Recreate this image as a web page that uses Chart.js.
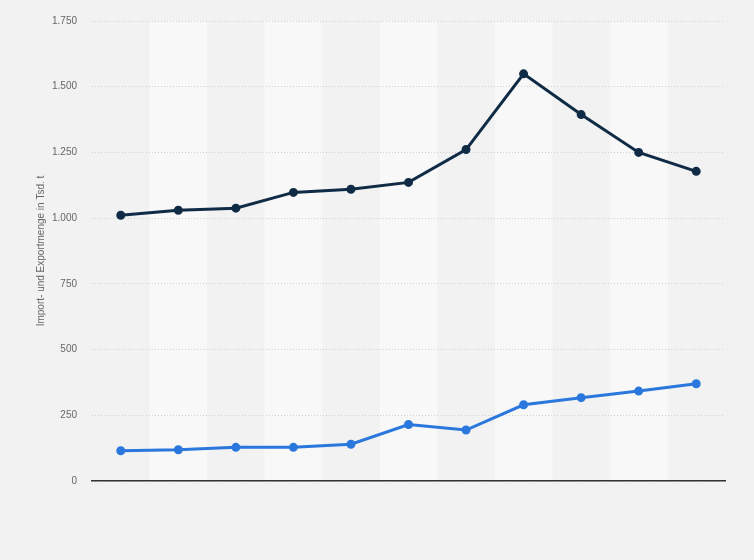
<!DOCTYPE html>
<html>
<head>
<meta charset="utf-8">
<script src="https://cdn.jsdelivr.net/npm/chart.js@4.4.0/dist/chart.umd.min.js"></script>
<style>
  html, body { margin: 0; padding: 0; background: #f2f2f2; }
  #wrap { width: 754px; height: 560px; position: relative; }
</style>
</head>
<body>
<div id="wrap"><canvas id="c"></canvas></div>
<script>
const categories = ["1", "2", "3", "4", "5", "6", "7", "8", "9", "10", "11"];
const seriesImport = [1011, 1030, 1038, 1098, 1110, 1136, 1261, 1549, 1394, 1250, 1178];
const seriesExport = [115, 119, 128, 128, 140, 215, 194, 290, 317, 342, 370];
const yTicks = [0, 250, 500, 750, 1000, 1250, 1500, 1750];
const yTitle = "Import- und Exportmenge in Tsd. t";

const bandPlugin = {
  id: 'bands',
  beforeDraw(chart) {
    const { ctx, chartArea, scales } = chart;
    const x = scales.x;
    ctx.save();
    ctx.fillStyle = '#f8f8f8';
    for (let i = 0; i < categories.length; i++) {
      if (i % 2 === 1) {
        const c = x.getPixelForValue(i);
        const half = (x.getPixelForValue(1) - x.getPixelForValue(0)) / 2;
        ctx.fillRect(c - half, chartArea.top, half * 2, chartArea.bottom - chartArea.top);
      }
    }
    ctx.restore();
  }
};

new Chart(document.getElementById('c'), {
  type: 'line',
  data: {
    labels: categories,
    datasets: [
      {
        label: 'Import',
        data: seriesImport,
        borderColor: '#0f2b45',
        backgroundColor: '#0f2b45',
        borderWidth: 3,
        pointRadius: 3,
        pointHoverRadius: 3,
        tension: 0
      },
      {
        label: 'Export',
        data: seriesExport,
        borderColor: '#2a77dd',
        backgroundColor: '#2a77dd',
        borderWidth: 3,
        pointRadius: 3,
        pointHoverRadius: 3,
        tension: 0
      }
    ]
  },
  plugins: [bandPlugin],
  options: {
    responsive: true,
    maintainAspectRatio: false,
    animation: false,
    layout: { padding: { left: 0, right: 29, top: 19, bottom: 79 } },
    plugins: { legend: { display: false }, tooltip: { enabled: false } },
    scales: {
      x: {
        offset: true,
        grid: { display: false, drawTicks: false },
        border: { display: true, color: '#333333', width: 1.5 },
        ticks: { display: false },
        afterFit(s) { s.height = 0; }
      },
      y: {
        min: 0,
        max: 1750,
        afterBuildTicks(s) { s.ticks = yTicks.map(v => ({ value: v })); },
        afterFit(s) { s.width = 92; },
        grid: {
          color: '#cfcfcf',
          drawTicks: false,
          lineWidth: 1
        },
        border: { display: false, dash: [1, 2] },
        ticks: {
          padding: 15,
          color: '#666666',
          font: { family: 'Liberation Sans, Arial, sans-serif', size: 10 },
          callback: v => v.toLocaleString('de-DE')
        },
        title: {
          display: true,
          text: yTitle,
          color: '#666666',
          font: { family: 'Liberation Sans, Arial, sans-serif', size: 10 },
          padding: { top: 35, bottom: 0 }
        }
      }
    }
  }
});
</script>
</body>
</html>
